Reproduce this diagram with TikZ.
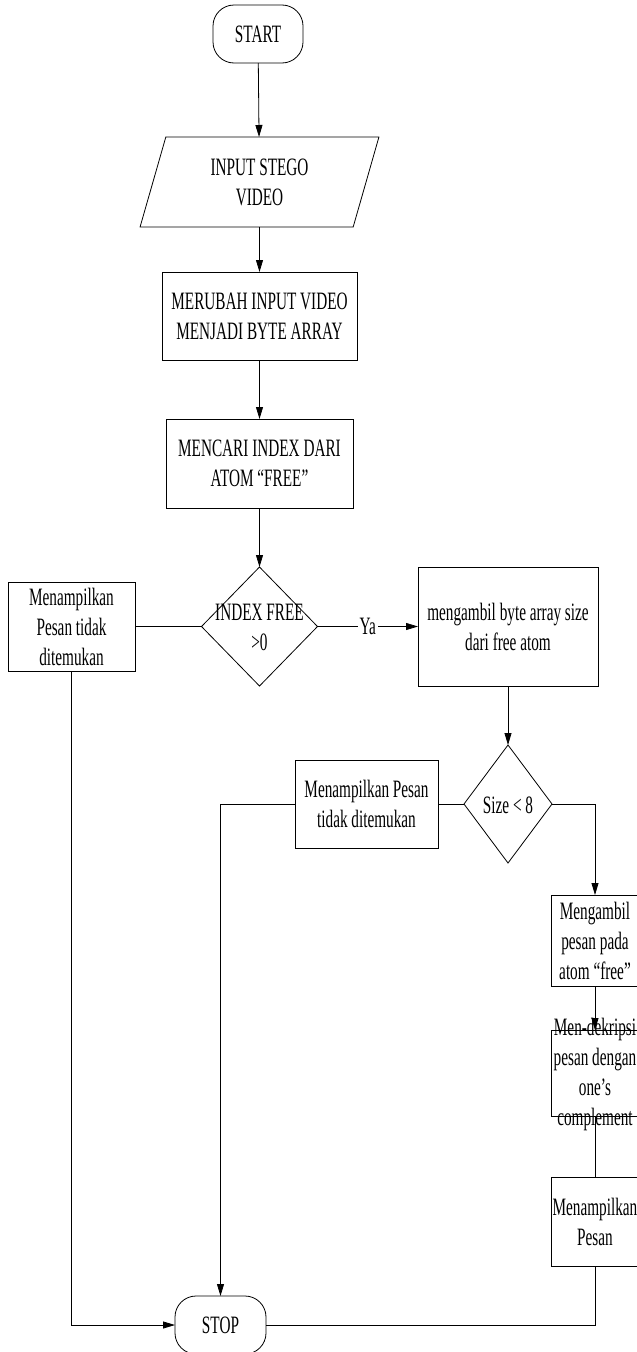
\documentclass[tikz,border=0pt]{standalone}
\usepackage{fontspec}
\setmainfont{Liberation Serif}[FakeStretch=0.61]
\usetikzlibrary{arrows.meta,shapes.geometric}
\begin{document}
\begin{tikzpicture}[x=1pt,y=-1pt,
  every node/.style={font=\fontsize{25}{30}\selectfont, align=center,
    inner sep=0pt, outer sep=0pt},
  line/.style={line width=0.8pt},
  flow/.style={line, -{Triangle[length=12pt,width=7pt]}},
  box/.style={draw, line, rectangle},
  term/.style={draw, line, rectangle, rounded corners=21pt,
    minimum width=90pt, minimum height=58pt},
  io/.style={draw, line, trapezium, trapezium left angle=74,
    trapezium right angle=106, trapezium stretches=true,
    minimum width=239pt, minimum height=90pt},
  decision/.style={draw, line, diamond},
  tag/.style={fill=white, inner sep=2pt}
]
\useasboundingbox (0,0) rectangle (637,1352);
\clip (0,0) rectangle (637,1352);

% main column
\node[term] (start) at (258,34) {START};
\node[io] (input) at (259.5,182) {INPUT STEGO\\VIDEO};
\node[box, minimum width=195pt, minimum height=88pt] (merubah) at (259.5,316)
  {MERUBAH INPUT VIDEO\\MENJADI BYTE ARRAY};
\node[box, minimum width=187pt, minimum height=89pt] (mencari) at (259.5,463.5)
  {MENCARI INDEX DARI\\ATOM “FREE”};
\node[decision, minimum width=116pt, minimum height=119pt] (idx) at (259.5,626.5) {};
\node (idxtxt) at (259.5,627) {INDEX FREE\\>0};

% left branch
\node[box, minimum width=127pt, minimum height=89pt] (pesan1) at (71.5,626.5)
  {Menampilkan\\Pesan tidak\\ditemukan};

% right branch
\node[box, minimum width=180pt, minimum height=119pt] (ambilsize) at (508,626.5)
  {mengambil byte array size\\dari free atom};
\node[decision, minimum width=88pt, minimum height=118pt] (size) at (508,804) {};
\node (sizetxt) at (508,805) {Size < 8};
\node[box, minimum width=143pt, minimum height=88pt] (pesan2) at (366.5,804)
  {Menampilkan Pesan\\tidak ditemukan};

% far right column
\node[box, minimum width=88pt, minimum height=91pt] (ambil) at (595,940.5)
  {Mengambil\\pesan pada\\atom “free”};
\node[box, minimum width=88pt, minimum height=86pt] (dekrip) at (595,1073) {};
\node (dekriptxt) at (595,1074) {Men-dekripsi\\pesan dengan\\one’s\\complement};
\node[box, minimum width=88pt, minimum height=89pt] (tampil) at (595,1221.5)
  {Menampilkan\\Pesan};

\node[term, minimum width=91pt] (stop) at (220.5,1325) {STOP};

% connectors
\draw[flow] (start) -- (input);
\draw[flow] (input) -- (merubah);
\draw[flow] (merubah) -- (mencari);
\draw[flow] (mencari) -- (idx);
\draw[line] (idx.west) -- (pesan1.east);
\draw[flow] (idx.east) -- node[tag] (ya) {Ya} (ambilsize.west);
\draw[flow] (ambilsize) -- (size);
\draw[line] (size.west) -- (pesan2.east);
\draw[flow] (pesan2.west) -| (stop.north);
\draw[flow] (size.east) -| (ambil.north);
\draw[flow] (ambil) -- (dekrip);
\draw[line] (dekrip) -- (tampil);
\draw[line] (tampil.south) |- (stop.east);
\draw[flow] (pesan1.south) |- (stop.west);
\end{tikzpicture}
\end{document}
